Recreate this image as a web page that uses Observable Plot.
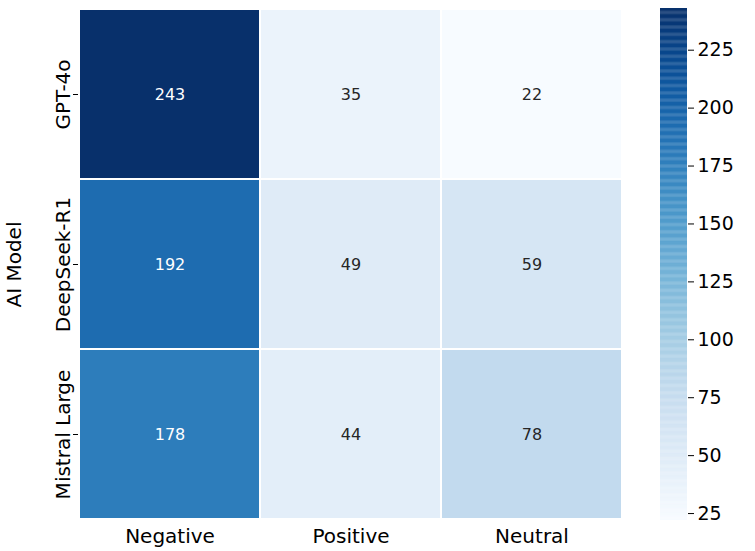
<!DOCTYPE html>
<html>
<head>
<script src="https://cdn.jsdelivr.net/npm/d3@7"></script>
<script src="https://cdn.jsdelivr.net/npm/@observablehq/plot@0.6"></script>
<style>
  body { margin: 0; background: white; font-family: "DejaVu Sans", sans-serif; }
  #wrap { position: relative; width: 755px; height: 551px; }
  #cbar { position: absolute; left: 650px; top: 0; }
  #main { position: absolute; left: 0; top: 0; }
</style>
</head>
<body>
<div id="wrap"><div id="main"></div><div id="cbar"></div></div>
<script>
const models = ['GPT-4o', 'DeepSeek-R1', 'Mistral Large']
const sentiments = ['Negative', 'Positive', 'Neutral']
const counts = [
  [243, 35, 22],
  [192, 49, 59],
  [178, 44, 78],
]
const colorTicks = [25, 50, 75, 100, 125, 150, 175, 200, 225]

const cells = []
models.forEach((m, i) => sentiments.forEach((s, j) => cells.push({model: m, sentiment: s, n: counts[i][j]})))
const lo = d3.min(cells, d => d.n), hi = d3.max(cells, d => d.n)
const color = {type: 'linear', scheme: 'blues', domain: [lo, hi]}

const main = Plot.plot({
  width: 640, height: 551,
  marginLeft: 78, marginRight: 17, marginTop: 8, marginBottom: 31,
  style: {fontFamily: '"DejaVu Sans", sans-serif', fontSize: '19px'},
  x: {domain: sentiments, padding: 0},
  y: {domain: models, padding: 0},
  color,
  marks: [
    Plot.cell(cells, {x: 'sentiment', y: 'model', fill: 'n', stroke: 'white', strokeWidth: 2, inset: 0}),
    Plot.text(cells, {x: 'sentiment', y: 'model', text: 'n', fontSize: 16,
      fill: d => d.n > 140 ? 'white' : '#262626'}),
    Plot.axisX({label: null, tickSize: 0, tickPadding: 8, fontSize: 20}),
    Plot.axisY({label: 'AI Model', labelAnchor: 'center', labelArrow: 'none', labelOffset: 72,
      tickRotate: -90, tickSize: 5, tickPadding: 4, fontSize: 20}),
  ]
})
document.getElementById('main').append(main)

const steps = d3.range(lo, hi, 0.5)
const bar = Plot.plot({
  width: 105, height: 551,
  marginLeft: 10, marginRight: 68, marginTop: 8, marginBottom: 31,
  style: {fontFamily: '"DejaVu Sans", sans-serif', fontSize: '19px'},
  x: {domain: [0, 1], axis: null},
  y: {domain: [lo, hi], axis: null},
  color,
  marks: [
    Plot.rect(steps, {x1: 0, x2: 1, y1: d => d, y2: d => Math.min(d + 0.6, hi), fill: d => d}),
    Plot.axisY({anchor: 'right', ticks: colorTicks, tickSize: 6, tickPadding: 4, label: null, fontSize: 19}),
  ]
})
document.getElementById('cbar').append(bar)
</script>
</body>
</html>
